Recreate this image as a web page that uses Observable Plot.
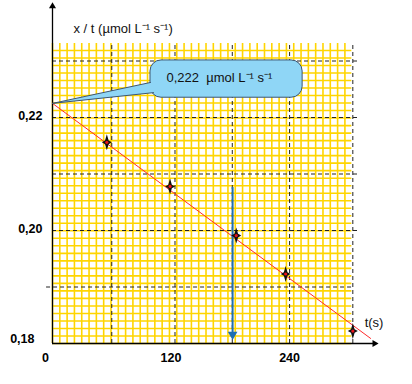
<!DOCTYPE html>
<html><head><meta charset="utf-8">
<script src="https://cdn.jsdelivr.net/npm/d3@7"></script>
<script src="https://cdn.jsdelivr.net/npm/@observablehq/plot@0.6"></script>
<style>body{margin:0;background:#fff}</style>
</head><body><div id="chart"></div>
<script>
// measured points
const times = [55, 119, 186, 236, 304];
const rates = [0.2156, 0.2078, 0.1991, 0.1923, 0.1822];
// fitted line end points
const fitT = [0, 322];
const fitV = [0.2225, 0.1809];
// major dashed grid
const majorX = [60, 124, 182, 240, 304];
const majorY = [0.19, 0.20, 0.21, 0.22, 0.23];
// tick labels
const yTicks = [0.20, 0.22];
const yTickLabels = ["0,20", "0,22"];
const yTickLow = [0.18];
const yTickLowLabels = ["0,18"];
const xTicks = [120, 240];
const xTickLabels = ["120", "240"];
const xTickZero = [0];
const xTickZeroLabels = ["0"];
// annotation: intercept
const interceptT = 0, interceptV = 0.2225;
const calloutText = "0,222  µmol L⁻¹ s⁻¹";
const box = {x1: 99.2, x2: 253.2, y1: 0.2235, y2: 0.2301};
// tangent reading at t
const readT = 182.3, readV = 0.2076;

const gridTop = 0.2331, gridRight = 303;
const fineX = d3.range(0, gridRight + 0.1, 7.4);
const fineY = d3.range(0.18, gridTop, 0.00133);

const pts = times.map((t, i) => ({t, v: rates[i]}));
const fit = fitT.map((t, i) => ({t, v: fitV[i]}));

const star = {
  draw(ctx) {
    const h = 8, w = 5, c = 1.8;
    ctx.moveTo(0, -h); ctx.lineTo(c, -c); ctx.lineTo(w, 0); ctx.lineTo(c, c);
    ctx.lineTo(0, h); ctx.lineTo(-c, c); ctx.lineTo(-w, 0); ctx.lineTo(-c, -c);
    ctx.closePath();
  }
};

const pointer = [
  {t: interceptT, v: interceptV},
  {t: box.x1, v: 0.2262},
  {t: box.x1 + 10, v: 0.2262},
  {t: box.x1 + 10, v: 0.2244},
  {t: box.x1 + 3.1, v: 0.2244},
  {t: interceptT, v: interceptV}
];
const blue = "#8fd6f6";
const font = "Liberation Sans, Arial, sans-serif";

const chart = Plot.plot({
  width: 412, height: 384,
  marginLeft: 52, marginRight: 34, marginTop: 4, marginBottom: 41,
  x: {domain: [0, 330], axis: null},
  y: {domain: [0.18, 0.24], axis: null},
  style: {fontFamily: font, background: "#fff"},
  marks: [
    // fine yellow grid
    Plot.ruleX(fineX, {x: d => d, y1: 0.18, y2: gridTop, stroke: "#ffd500", strokeWidth: 1.6}),
    Plot.ruleY(fineY, {y: d => d, x1: 0, x2: gridRight, stroke: "#ffd500", strokeWidth: 1.6}),
    // dashed major grid
    Plot.ruleY(majorY.filter(d => d !== 0.19), {y: d => d, x1: 0, x2: 310, stroke: "#222", strokeDasharray: "4,3"}),
    Plot.ruleY(majorY.filter(d => d === 0.19), {y: d => d, x1: -6, x2: 303, stroke: "#222", strokeDasharray: "4,3"}),
    Plot.ruleX(majorX, {x: d => d, y1: 0.18, y2: gridTop, stroke: "#222", strokeDasharray: "4,3"}),
    // axes
    Plot.ruleX([0], {x: d => d, y1: 0.18, y2: 0.2395, stroke: "#000", strokeWidth: 1.3}),
    Plot.dot([0], {x: d => d, y: 0.2397, symbol: "triangle", r: 2.6, fill: "#000", stroke: null}),
    Plot.ruleY([0.18], {y: d => d, x1: 0, x2: 325, stroke: "#000", strokeWidth: 1.3}),
    Plot.dot([0.18], {x: 326, y: d => d, symbol: "triangle", rotate: 90, r: 2.6, fill: "#000", stroke: null}),
    // fitted line
    Plot.line(fit, {x: "t", y: "v", stroke: "#ff2a2a", strokeWidth: 1}),
    // reading arrow
    Plot.ruleX([readT], {x: d => d, y1: readV, y2: 0.1812, stroke: "#1f6fb2", strokeWidth: 2}),
    Plot.dot([readT], {x: d => d, y: 0.1816, symbol: "triangle", rotate: 180, r: 3.6, fill: "#1f6fb2", stroke: null}),
    // points
    Plot.dot(pts, {x: "t", y: "v", symbol: star, r: 5, fill: "#111", stroke: null}),
    Plot.dot(pts, {x: "t", y: "v", r: 1.6, fill: "#e8141b", stroke: null}),
    // callout
    Plot.rect([box], {x1: "x1", x2: "x2", y1: "y1", y2: "y2", rx: 11, fill: blue, stroke: "#3d5570", strokeWidth: 1}),
    Plot.line(pointer, {x: "t", y: "v", fill: blue, stroke: null}),
    Plot.line(pointer.slice(0, 2), {x: "t", y: "v", stroke: "#3d5570", strokeWidth: 1}),
    Plot.line([pointer[4], pointer[5]], {x: "t", y: "v", stroke: "#3d5570", strokeWidth: 1}),
    Plot.text([calloutText], {x: 115.4, y: 0.2271, text: d => d, textAnchor: "start", fontSize: 13, fill: "#111"}),
    // tick labels
    Plot.text(yTicks, {x: 0, y: d => d, text: (d, i) => yTickLabels[i], textAnchor: "end", dx: -10, dy: -2, fontSize: 12.5, fontWeight: "bold", fill: "#000"}),
    Plot.text(yTickLow, {x: 0, y: d => d, text: (d, i) => yTickLowLabels[i], textAnchor: "end", dx: -18, dy: -5, fontSize: 12.5, fontWeight: "bold", fill: "#000"}),
    Plot.text(xTicks, {x: d => d, y: 0.18, text: (d, i) => xTickLabels[i], dy: 14, fontSize: 12.5, fontWeight: "bold", fill: "#000"}),
    Plot.text(xTickZero, {x: d => d, y: 0.18, text: (d, i) => xTickZeroLabels[i], dx: -7, dy: 14, fontSize: 12.5, fontWeight: "bold", fill: "#000"}),
    // axis titles
    Plot.text(["x / t (µmol L⁻¹ s⁻¹)"], {frameAnchor: "top-left", dx: 21, dy: 19, text: d => d, textAnchor: "start", fontSize: 13, fill: "#111"}),
    Plot.text(["t(s)"], {x: 316, y: 0.18, text: d => d, textAnchor: "start", dy: -21, fontSize: 13, fill: "#111"})
  ]
});
document.getElementById("chart").appendChild(chart);
</script>
</body></html>
